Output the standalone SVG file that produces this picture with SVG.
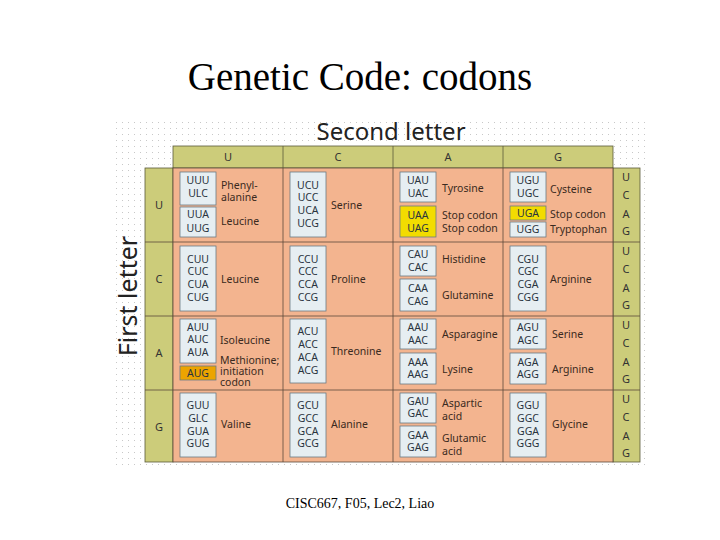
<svg xmlns="http://www.w3.org/2000/svg" width="720" height="540" viewBox="0 0 720 540">
<defs>
<pattern id="dots" width="6" height="6" patternUnits="userSpaceOnUse"><rect x="2" y="2" width="1" height="1" fill="#c8c8c8"/></pattern>
<style>
.t{font-family:"Noto Sans","DejaVu Sans",sans-serif;font-size:10.5px;fill:#3a2a20}
.c{font-family:"Noto Sans","DejaVu Sans",sans-serif;font-size:10.5px;fill:#2a3440;text-anchor:middle}
.h{font-family:"Noto Sans","DejaVu Sans",sans-serif;font-size:11px;fill:#333;text-anchor:middle}
.cell{fill:#f3b48f;stroke:#5a4a3a;stroke-width:0.8}
.g{fill:#cccc7a;stroke:#5a5a3a;stroke-width:0.8}
.b{fill:#e6eef2;stroke:#6a7a84;stroke-width:0.8}
.y{fill:#f2dc00;stroke:#6a7a84;stroke-width:0.8}
.o{fill:#eca400;stroke:#6a7a84;stroke-width:0.8}
</style>
</defs>
<rect width="720" height="540" fill="#fff"/>
<text x="360" y="90" text-anchor="middle" font-family="Liberation Serif,serif" font-size="39">Genetic Code: codons</text>
<rect x="113" y="120" width="532" height="345" fill="url(#dots)"/>
<text x="391" y="140" text-anchor="middle" font-family="Noto Sans,DejaVu Sans,sans-serif" font-size="24" fill="#222">Second letter</text>
<text transform="translate(137,296) rotate(-90)" text-anchor="middle" font-family="Noto Sans,DejaVu Sans,sans-serif" font-size="25" fill="#222">First letter</text>
<g id="frame">
<rect class="g" x="173" y="146" width="440" height="22"/>
<line x1="283" y1="146" x2="283" y2="168" stroke="#5a5a3a" stroke-width="0.8"/>
<line x1="393" y1="146" x2="393" y2="168" stroke="#5a5a3a" stroke-width="0.8"/>
<line x1="503" y1="146" x2="503" y2="168" stroke="#5a5a3a" stroke-width="0.8"/>
<text class="h" x="228" y="161">U</text><text class="h" x="338" y="161">C</text><text class="h" x="448" y="161">A</text><text class="h" x="558" y="161">G</text>
<rect class="g" x="145" y="168" width="28" height="294"/>
<rect class="g" x="613" y="168" width="27" height="294"/>
<rect class="cell" x="173" y="168" width="440" height="294"/>
<g stroke="#5a4a3a" stroke-width="0.8">
<line x1="283" y1="168" x2="283" y2="462"/><line x1="393" y1="168" x2="393" y2="462"/><line x1="503" y1="168" x2="503" y2="462"/>
<line x1="145" y1="242" x2="640" y2="242"/><line x1="145" y1="316" x2="640" y2="316"/><line x1="145" y1="390" x2="640" y2="390"/>
</g>
<text class="h" x="159" y="209">U</text><text class="h" x="159" y="283">C</text><text class="h" x="159" y="357">A</text><text class="h" x="159" y="431">G</text>
<g class="h">
<text x="626" y="181">U</text><text x="626" y="199">C</text><text x="626" y="218">A</text><text x="626" y="235">G</text>
<text x="626" y="255">U</text><text x="626" y="273">C</text><text x="626" y="292">A</text><text x="626" y="309">G</text>
<text x="626" y="329">U</text><text x="626" y="347">C</text><text x="626" y="366">A</text><text x="626" y="383">G</text>
<text x="626" y="403">U</text><text x="626" y="421">C</text><text x="626" y="440">A</text><text x="626" y="457">G</text>
</g>
</g>
<g id="UU">
<rect class="b" x="180" y="172" width="36" height="33"/><rect class="b" x="180" y="207" width="36" height="30"/>
<text class="c" x="198" y="184">UUU</text><text class="c" x="198" y="197">ULC</text><text class="c" x="198" y="218">UUA</text><text class="c" x="198" y="232">UUG</text>
<text class="t" x="221" y="189">Phenyl-</text><text class="t" x="221" y="201">alanine</text><text class="t" x="221" y="225">Leucine</text>
</g>
<g id="UC">
<rect class="b" x="290" y="172" width="36" height="65"/>
<text class="c" x="308" y="189">UCU</text><text class="c" x="308" y="201">UCC</text><text class="c" x="308" y="214">UCA</text><text class="c" x="308" y="227">UCG</text>
<text class="t" x="331" y="209">Serine</text>
</g>
<g id="UA">
<rect class="b" x="400" y="172" width="36" height="30"/><rect class="y" x="400" y="206" width="36" height="31"/>
<text class="c" x="418" y="184">UAU</text><text class="c" x="418" y="197">UAC</text><text class="c" x="418" y="219">UAA</text><text class="c" x="418" y="232">UAG</text>
<text class="t" x="442" y="192">Tyrosine</text><text class="t" x="442" y="219">Stop codon</text><text class="t" x="442" y="232">Stop codon</text>
</g>
<g id="UG">
<rect class="b" x="510" y="172" width="36" height="30"/><rect class="y" x="510" y="206" width="36" height="14"/><rect class="b" x="510" y="222" width="36" height="15"/>
<text class="c" x="528" y="184">UGU</text><text class="c" x="528" y="197">UGC</text><text class="c" x="528" y="217">UGA</text><text class="c" x="528" y="233">UGG</text>
<text class="t" x="550" y="193">Cysteine</text><text class="t" x="550" y="218">Stop codon</text><text class="t" x="550" y="233">Tryptophan</text>
</g>
<g id="CU">
<rect class="b" x="180" y="246" width="36" height="65"/>
<text class="c" x="198" y="263">CUU</text><text class="c" x="198" y="275">CUC</text><text class="c" x="198" y="288">CUA</text><text class="c" x="198" y="301">CUG</text>
<text class="t" x="221" y="283">Leucine</text>
</g>
<g id="CC">
<rect class="b" x="290" y="246" width="36" height="65"/>
<text class="c" x="308" y="263">CCU</text><text class="c" x="308" y="275">CCC</text><text class="c" x="308" y="288">CCA</text><text class="c" x="308" y="301">CCG</text>
<text class="t" x="331" y="283">Proline</text>
</g>
<g id="CA">
<rect class="b" x="400" y="246" width="36" height="30"/><rect class="b" x="400" y="279" width="36" height="32"/>
<text class="c" x="418" y="258">CAU</text><text class="c" x="418" y="271">CAC</text><text class="c" x="418" y="292">CAA</text><text class="c" x="418" y="305">CAG</text>
<text class="t" x="442" y="263">Histidine</text><text class="t" x="442" y="299">Glutamine</text>
</g>
<g id="CG">
<rect class="b" x="510" y="246" width="36" height="65"/>
<text class="c" x="528" y="263">CGU</text><text class="c" x="528" y="275">CGC</text><text class="c" x="528" y="288">CGA</text><text class="c" x="528" y="301">CGG</text>
<text class="t" x="550" y="283">Arginine</text>
</g>
<g id="AU">
<rect class="b" x="180" y="319" width="36" height="44"/><rect class="o" x="180" y="366" width="36" height="14"/>
<text class="c" x="198" y="331">AUU</text><text class="c" x="198" y="343">AUC</text><text class="c" x="198" y="356">AUA</text><text class="c" x="198" y="377">AUG</text>
<text class="t" x="220" y="344">Isoleucine</text><text class="t" x="220" y="364">Methionine;</text><text class="t" x="220" y="375">initiation</text><text class="t" x="220" y="386">codon</text>
</g>
<g id="AC">
<rect class="b" x="290" y="319" width="36" height="64"/>
<text class="c" x="308" y="335">ACU</text><text class="c" x="308" y="348">ACC</text><text class="c" x="308" y="361">ACA</text><text class="c" x="308" y="374">ACG</text>
<text class="t" x="331" y="355">Threonine</text>
</g>
<g id="AA">
<rect class="b" x="400" y="319" width="36" height="30"/><rect class="b" x="400" y="353" width="36" height="31"/>
<text class="c" x="418" y="331">AAU</text><text class="c" x="418" y="344">AAC</text><text class="c" x="418" y="366">AAA</text><text class="c" x="418" y="378">AAG</text>
<text class="t" x="442" y="338">Asparagine</text><text class="t" x="442" y="373">Lysine</text>
</g>
<g id="AG">
<rect class="b" x="510" y="319" width="36" height="30"/><rect class="b" x="510" y="353" width="36" height="31"/>
<text class="c" x="528" y="331">AGU</text><text class="c" x="528" y="344">AGC</text><text class="c" x="528" y="366">AGA</text><text class="c" x="528" y="378">AGG</text>
<text class="t" x="552" y="338">Serine</text><text class="t" x="552" y="373">Arginine</text>
</g>
<g id="GU">
<rect class="b" x="180" y="393" width="36" height="64"/>
<text class="c" x="198" y="409">GUU</text><text class="c" x="198" y="422">GLC</text><text class="c" x="198" y="435">GUA</text><text class="c" x="198" y="447">GUG</text>
<text class="t" x="221" y="428">Valine</text>
</g>
<g id="GC">
<rect class="b" x="290" y="393" width="36" height="64"/>
<text class="c" x="308" y="409">GCU</text><text class="c" x="308" y="422">GCC</text><text class="c" x="308" y="435">GCA</text><text class="c" x="308" y="447">GCG</text>
<text class="t" x="331" y="428">Alanine</text>
</g>
<g id="GA">
<rect class="b" x="400" y="393" width="36" height="30"/><rect class="b" x="400" y="426" width="36" height="31"/>
<text class="c" x="418" y="405">GAU</text><text class="c" x="418" y="417">GAC</text><text class="c" x="418" y="439">GAA</text><text class="c" x="418" y="451">GAG</text>
<text class="t" x="442" y="407">Aspartic</text><text class="t" x="442" y="420">acid</text><text class="t" x="442" y="442">Glutamic</text><text class="t" x="442" y="455">acid</text>
</g>
<g id="GG">
<rect class="b" x="510" y="393" width="36" height="64"/>
<text class="c" x="528" y="409">GGU</text><text class="c" x="528" y="422">GGC</text><text class="c" x="528" y="435">GGA</text><text class="c" x="528" y="447">GGG</text>
<text class="t" x="552" y="428">Glycine</text>
</g>
<text x="360" y="508" text-anchor="middle" font-family="Liberation Serif,serif" font-size="14">CISC667, F05, Lec2, Liao</text>
</svg>
